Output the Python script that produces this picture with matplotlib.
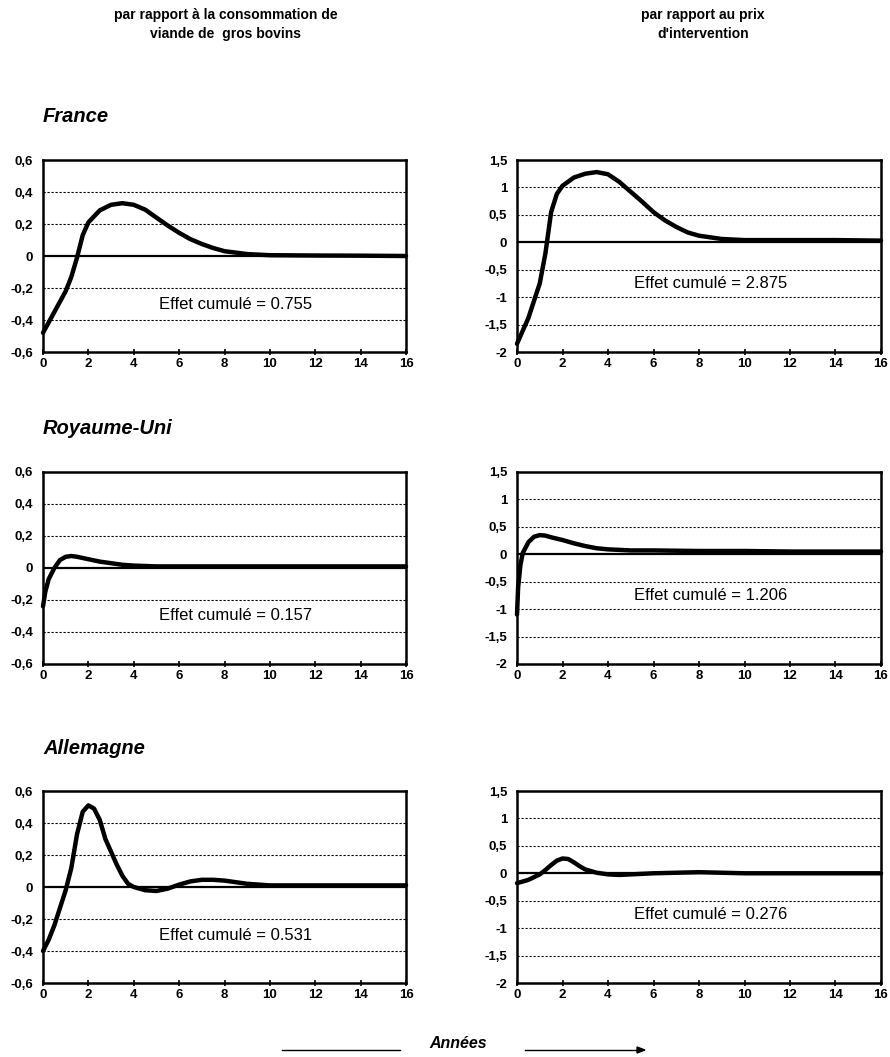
#%%
# multiplicateurs dynamiques - France / Royaume-Uni / Allemagne
import numpy as np
import matplotlib.pyplot as plt
from matplotlib.ticker import FixedLocator, FixedFormatter

plt.rcParams['font.family'] = ['Liberation Sans', 'DejaVu Sans']

# %%
# valeurs
fr_conso_x = [0, 0.5, 1.0, 1.25, 1.5, 1.75, 2.0, 2.5, 3.0, 3.5, 4.0, 4.5, 5.0, 5.5,
              6.0, 6.5, 7.0, 7.5, 8.0, 9.0, 10, 12, 14, 16]
fr_conso_y = [-0.48, -0.35, -0.22, -0.13, -0.01, 0.13, 0.21, 0.285, 0.32, 0.33, 0.32,
              0.29, 0.24, 0.19, 0.145, 0.105, 0.075, 0.05, 0.03, 0.012, 0.005, 0.003,
              0.002, 0.0]

fr_prix_x = [0, 0.5, 1.0, 1.25, 1.5, 1.75, 2.0, 2.5, 3.0, 3.5, 4.0, 4.5, 5.0, 5.5,
             6.0, 6.5, 7.0, 7.5, 8.0, 9.0, 10, 12, 14, 16]
fr_prix_y = [-1.85, -1.38, -0.75, -0.2, 0.55, 0.88, 1.03, 1.18, 1.25, 1.28, 1.24, 1.1,
             0.92, 0.74, 0.55, 0.4, 0.28, 0.18, 0.12, 0.06, 0.04, 0.04, 0.04, 0.03]

uk_conso_x = [0, 0.1, 0.25, 0.5, 0.75, 1.0, 1.25, 1.5, 2.0, 2.5, 3.0, 3.5, 4.0, 5.0,
              6.0, 8.0, 10, 12, 14, 16]
uk_conso_y = [-0.24, -0.15, -0.07, 0.0, 0.05, 0.07, 0.075, 0.07, 0.055, 0.04, 0.03,
              0.02, 0.015, 0.01, 0.01, 0.01, 0.01, 0.01, 0.01, 0.01]

uk_prix_x = [0, 0.05, 0.15, 0.25, 0.5, 0.75, 1.0, 1.25, 1.5, 2.0, 2.5, 3.0, 3.5, 4.0,
             5.0, 6.0, 8.0, 10, 12, 14, 16]
uk_prix_y = [-1.1, -0.6, -0.2, 0.02, 0.22, 0.32, 0.35, 0.34, 0.31, 0.26, 0.2, 0.15,
             0.11, 0.09, 0.07, 0.07, 0.06, 0.06, 0.05, 0.05, 0.05]

de_conso_x = [0, 0.25, 0.5, 0.75, 1.0, 1.25, 1.5, 1.75, 2.0, 2.25, 2.5, 2.75, 3.0,
              3.25, 3.5, 3.75, 4.0, 4.5, 5.0, 5.5, 6.0, 6.5, 7.0, 7.5, 8.0, 8.5,
              9.0, 10, 12, 14, 16]
de_conso_y = [-0.4, -0.33, -0.24, -0.13, -0.02, 0.12, 0.33, 0.47, 0.51, 0.49, 0.42,
              0.3, 0.22, 0.14, 0.07, 0.02, 0.0, -0.02, -0.025, -0.01, 0.015, 0.035,
              0.045, 0.045, 0.04, 0.03, 0.02, 0.01, 0.01, 0.01, 0.01]

de_prix_x = [0, 0.5, 1.0, 1.25, 1.5, 1.75, 2.0, 2.25, 2.5, 2.75, 3.0, 3.5, 4.0, 4.5,
             5.0, 6.0, 7.0, 8.0, 9.0, 10, 12, 14, 16]
de_prix_y = [-0.18, -0.12, -0.02, 0.06, 0.15, 0.23, 0.27, 0.26, 0.2, 0.13, 0.07, 0.01,
             -0.02, -0.03, -0.02, 0.0, 0.01, 0.02, 0.01, 0.0, 0.0, 0.0, 0.0]

pays = ['France', 'Royaume-Uni', 'Allemagne']
effet_conso = ['0.755', '0.157', '0.531']
effet_prix = ['2.875', '1.206', '0.276']

conso_yticks = [-0.6, -0.4, -0.2, 0, 0.2, 0.4, 0.6]
conso_yticklabels = ['-0,6', '-0,4', '-0,2', '0', '0,2', '0,4', '0,6']
prix_yticks = [-2, -1.5, -1, -0.5, 0, 0.5, 1, 1.5]
prix_yticklabels = ['-2', '-1,5', '-1', '-0,5', '0', '0,5', '1', '1,5']
xticks = [0, 2, 4, 6, 8, 10, 12, 14, 16]

# %%
def panel(ax, x, y, yticks, ylabels, effet, ytext):
    ax.set_xlim(0, 16)
    ax.set_ylim(yticks[0], yticks[-1])
    for v in yticks[1:-1]:
        if v == 0:
            ax.axhline(0, color='black', lw=1.6, zorder=2)
        else:
            ax.axhline(v, color='black', lw=0.8, ls=(0, (2, 1.6)), zorder=1)
    ax.plot(x, y, color='black', lw=3.2, solid_joinstyle='round',
            solid_capstyle='round', zorder=3, clip_on=False)
    ax.xaxis.set_major_locator(FixedLocator(xticks))
    ax.xaxis.set_major_formatter(FixedFormatter([str(t) for t in xticks]))
    ax.yaxis.set_major_locator(FixedLocator(yticks))
    ax.yaxis.set_major_formatter(FixedFormatter(ylabels))
    ax.tick_params(axis='x', direction='inout', length=5, width=1.2, pad=2,
                   labelsize=9.5)
    ax.tick_params(axis='y', length=0, pad=7, labelsize=9.5)
    for lab in ax.get_xticklabels() + ax.get_yticklabels():
        lab.set_fontweight('bold')
    for s in ax.spines.values():
        s.set_linewidth(1.8)
    ax.text(8.5, ytext, 'Effet cumulé = ' + effet, ha='center', va='center',
            fontsize=12)


if __name__ == '__main__':
    fig = plt.figure(figsize=(8.9, 10.57), dpi=100)
    W, H = 890, 1057
    rows = [(160, 352), (472, 664), (791, 983)]
    data = [(fr_conso_x, fr_conso_y, fr_prix_x, fr_prix_y),
            (uk_conso_x, uk_conso_y, uk_prix_x, uk_prix_y),
            (de_conso_x, de_conso_y, de_prix_x, de_prix_y)]

    for i, (top, bot) in enumerate(rows):
        cx, cy, px, py = data[i]
        ax1 = fig.add_axes([43 / W, 1 - bot / H, 363 / W, (bot - top) / H])
        panel(ax1, cx, cy, conso_yticks, conso_yticklabels, effet_conso[i], -0.3)
        ax2 = fig.add_axes([517 / W, 1 - bot / H, 364 / W, (bot - top) / H])
        panel(ax2, px, py, prix_yticks, prix_yticklabels, effet_prix[i], -0.75)
        fig.text(43 / W, 1 - (top - 43) / H, pays[i], fontsize=14.5,
                 fontweight='bold', style='italic', ha='left', va='center')

    fig.text(226 / W, 1 - 15 / H, 'par rapport à la consommation de',
             fontsize=10, fontweight='bold', ha='center', va='center')
    fig.text(226 / W, 1 - 34 / H, 'viande de  gros bovins',
             fontsize=10, fontweight='bold', ha='center', va='center')
    fig.text(703 / W, 1 - 15 / H, 'par rapport au prix',
             fontsize=10, fontweight='bold', ha='center', va='center')
    fig.text(703 / W, 1 - 34 / H, "d'intervention",
             fontsize=10, fontweight='bold', ha='center', va='center')

    # axe des années en bas
    fig.text(458 / W, 1 - 1044 / H, 'Années', fontsize=11.5,
             fontweight='bold', style='italic', ha='center', va='center')
    fig.add_artist(plt.Line2D([282 / W, 400 / W], [1 - 1050 / H, 1 - 1050 / H],
                              color='black', lw=1))
    fig.add_artist(plt.Line2D([525 / W, 640 / W], [1 - 1050 / H, 1 - 1050 / H],
                              color='black', lw=1))
    fig.patches.append(plt.Polygon([[637 / W, 1 - 1047 / H], [645 / W, 1 - 1050 / H],
                                    [637 / W, 1 - 1053 / H]],
                                   closed=True, color='black',
                                   transform=fig.transFigure, figure=fig))

    fig.savefig('out.png', dpi=100)
